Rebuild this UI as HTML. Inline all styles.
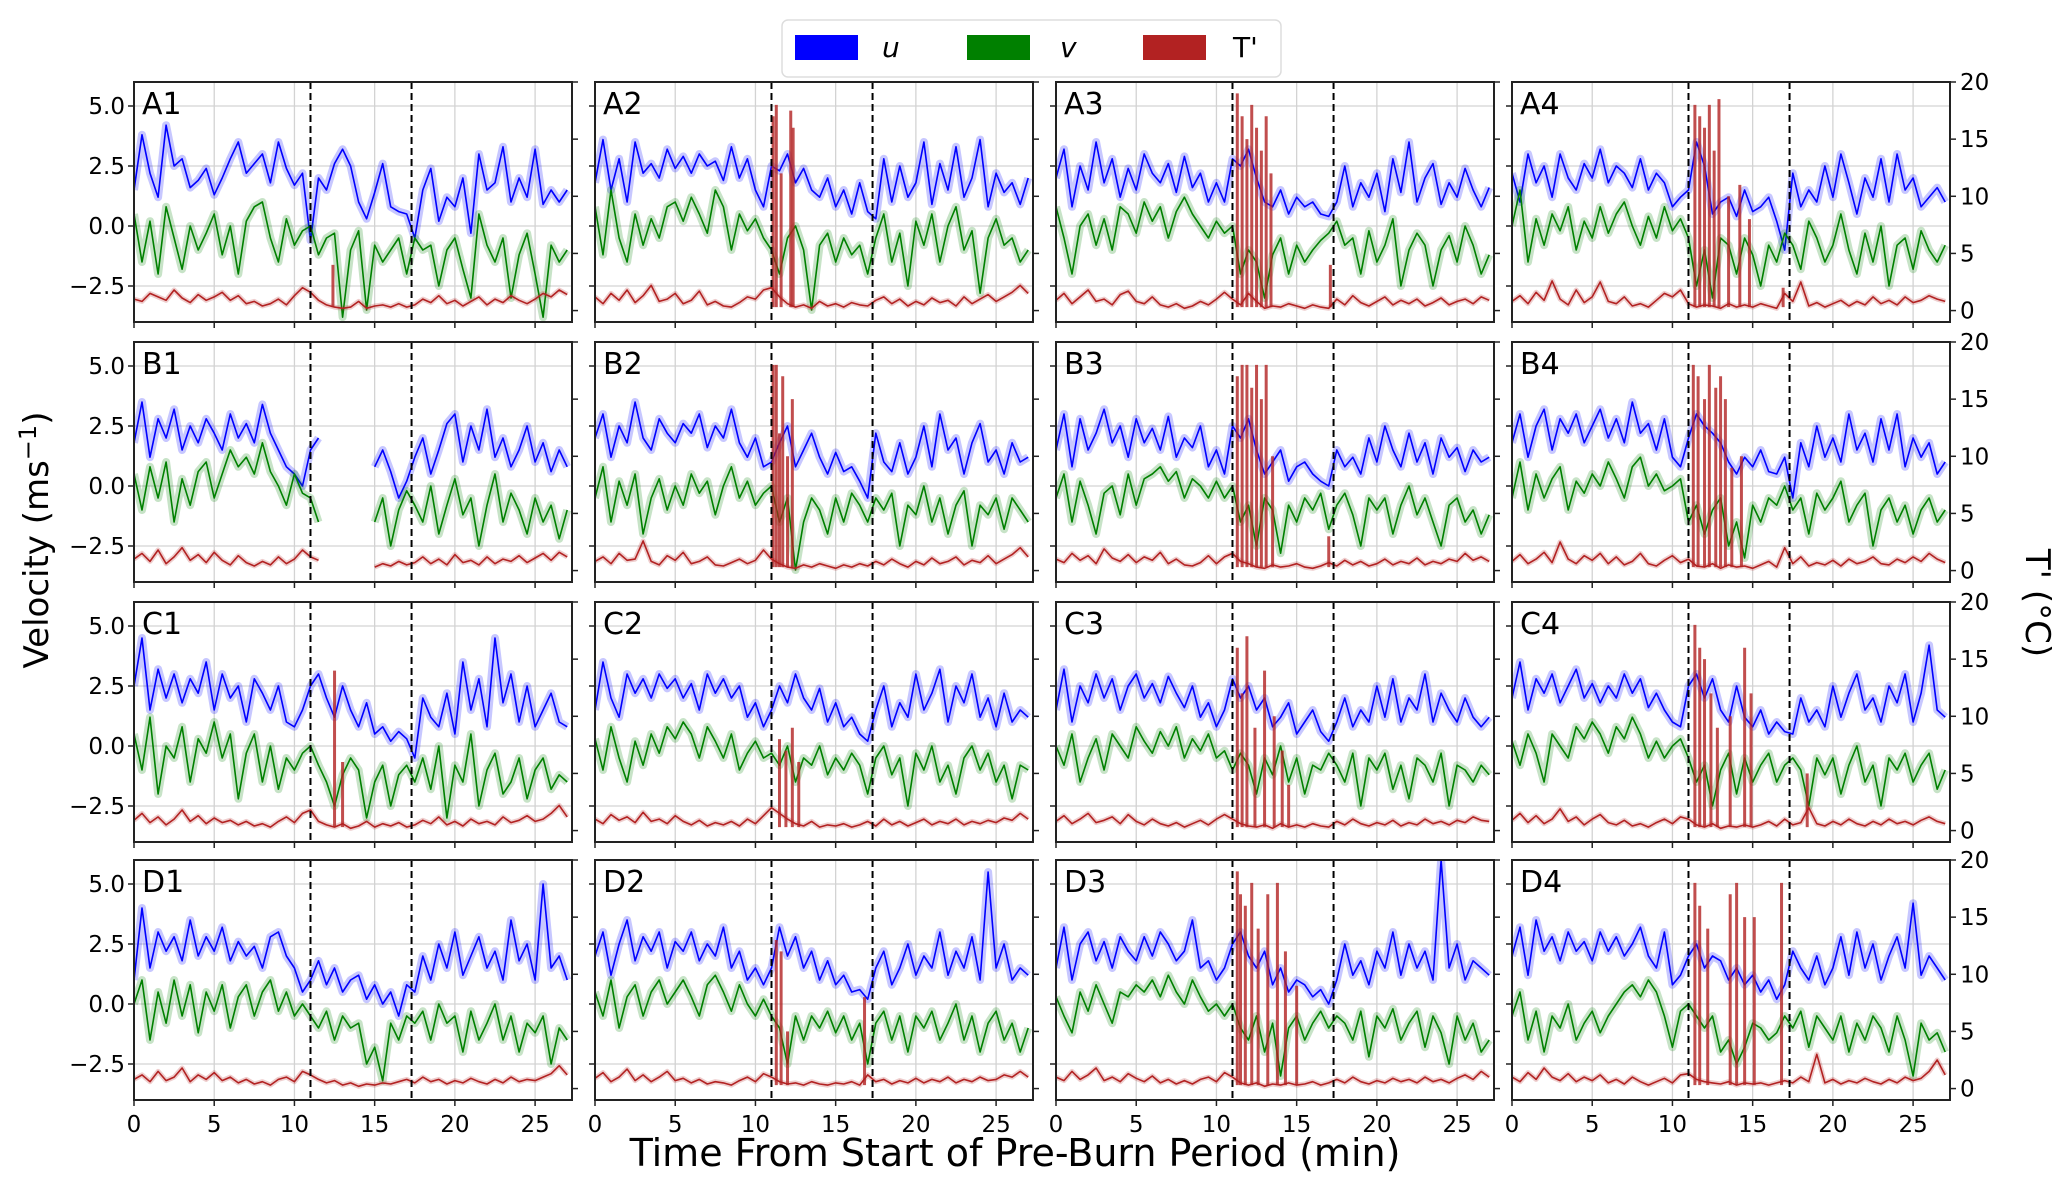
<!DOCTYPE html>
<html><head><meta charset="utf-8"><style>
html,body{margin:0;padding:0;background:#fff;}
svg{display:block;font-family:"DejaVu Sans","Liberation Sans",sans-serif;}
</style></head><body>
<svg id="chart" width="2067" height="1184" viewBox="0 0 2067 1184" xmlns="http://www.w3.org/2000/svg">
<g id="legend">
<rect x="782" y="20" width="499" height="57" rx="6" fill="#fff" stroke="#ddd" stroke-width="1.5"/>
<rect x="795" y="35" width="63" height="25" fill="#0000ff"/>
<text x="882" y="57" font-size="28" font-style="italic">u</text>
<rect x="967" y="35" width="63" height="25" fill="#008000"/>
<text x="1060" y="57" font-size="28" font-style="italic">v</text>
<rect x="1143" y="35" width="63" height="25" fill="#b22222"/>
<text x="1233" y="57" font-size="28">T'</text>
</g>
<text x="0" y="0" font-size="34" text-anchor="middle" transform="translate(48,540) rotate(-90)">Velocity (ms<tspan dy="-12" font-size="24">−1</tspan><tspan dy="12">)</tspan></text>
<text x="0" y="0" font-size="34" text-anchor="middle" transform="translate(2026,603) rotate(90)">T' (°C)</text>
<text x="1015" y="1166" font-size="38" text-anchor="middle">Time From Start of Pre-Burn Period (min)</text>
<g id="panels"></g>
</svg>
<script>
const xTicks = [0,5,10,15,20,25];
const yTicks = [-2.5,0,2.5,5];
const yTickLabels = ["−2.5","0.0","2.5","5.0"];
const tTicks = [0,5,10,15,20];
const burnLines = [11,17.3];
const sampleStep = 0.5;

const A1_u=[1.5,3.8,2.2,1.2,4.2,2.5,2.8,1.6,1.9,2.4,1.3,2.0,2.8,3.5,2.2,2.6,3.0,1.8,3.5,2.4,1.7,2.2,-0.6,2.0,1.5,2.6,3.2,2.5,1.0,0.3,1.4,2.6,0.8,0.6,0.5,-0.5,1.5,2.4,0.2,1.2,0.8,2.0,-0.3,3.0,1.5,1.8,3.3,1.0,2.0,1.2,3.2,0.9,1.5,1.0,1.5];
const A1_v=[0.5,-1.5,0.2,-2.0,0.8,-0.5,-1.8,0.0,-1.0,-0.3,0.5,-1.2,0.0,-2.0,0.2,0.8,1.0,-0.5,-1.5,0.3,-0.8,-0.2,0.0,-1.2,-0.5,-0.3,-3.8,-1.0,-0.2,-3.5,-0.8,-1.5,-1.0,-0.5,-2.0,-0.5,-1.0,-0.8,-2.5,-1.0,-0.5,-1.8,-3.0,0.5,-0.8,-1.5,-0.5,-3.0,-1.2,-0.3,-2.0,-3.8,-0.8,-1.5,-1.0];
const A1_T=[1.0,0.8,1.5,1.2,0.9,1.8,1.1,0.7,1.4,0.9,1.2,1.6,0.9,1.3,0.6,0.8,0.4,0.6,1.0,0.5,1.3,2.0,1.6,0.9,0.5,0.3,0.2,0.3,0.8,0.2,0.4,0.5,0.3,0.6,0.3,0.5,1.0,0.7,1.3,0.6,0.9,0.4,0.8,1.2,0.5,1.0,0.7,1.3,0.9,0.6,1.0,1.5,1.2,1.8,1.4];
const A1_spikeTime=[12.4];
const A1_spikeT=[4];

const A2_u=[1.8,3.6,1.5,2.8,1.0,3.5,2.2,2.6,2.0,3.2,2.4,2.9,2.2,3.0,2.5,2.7,1.9,3.3,2.0,2.8,1.5,0.8,2.5,2.3,3.0,1.8,2.4,1.5,1.2,2.0,0.8,1.5,0.5,1.8,0.6,0.3,2.8,1.0,2.5,1.2,1.8,3.5,0.9,2.6,1.5,3.3,1.2,2.0,3.6,0.8,2.2,1.4,1.8,0.9,2.0];
const A2_v=[0.8,-1.2,1.5,-0.5,-1.5,0.5,-0.8,0.3,-0.5,0.8,1.0,0.2,1.2,0.5,-0.3,1.5,0.8,-1.0,0.5,-0.2,0.3,-0.5,-1.0,-2.0,-0.5,0.0,-1.0,-3.5,-0.8,-0.3,-1.5,-0.5,-1.2,-0.8,-2.0,-0.5,0.5,-1.5,-0.3,-2.5,0.2,-0.8,0.5,-1.5,0.0,0.8,-1.0,-0.2,-2.8,-0.5,0.3,-0.8,-0.5,-1.5,-1.0];
const A2_T=[1.2,0.6,1.5,0.9,1.8,0.7,1.3,2.2,0.8,1.0,1.5,0.6,0.9,1.7,0.5,0.8,0.4,0.3,0.7,1.2,1.0,1.8,2.0,1.2,0.6,0.3,0.5,0.2,0.8,0.4,0.6,0.3,0.7,0.5,0.4,0.9,1.2,0.6,1.0,0.4,0.8,0.5,1.1,0.7,0.9,0.4,1.2,0.6,1.0,1.4,0.8,1.2,1.6,2.2,1.5];
const A2_spikeTime=[11.1,11.3,11.6,12.2,12.35];
const A2_spikeT=[17,18,12,17.5,16];

const A3_u=[2.0,3.2,0.8,2.5,1.5,3.5,1.8,2.8,1.2,2.4,1.5,3.0,2.2,1.8,2.6,1.4,2.9,1.6,2.2,1.0,1.8,1.0,2.8,2.5,3.2,2.0,1.0,0.8,1.5,0.5,1.2,0.8,1.0,0.5,0.4,1.0,2.5,0.8,1.8,1.2,2.2,0.6,2.8,1.4,3.5,1.0,2.0,2.6,0.9,1.8,1.2,2.4,1.5,0.8,1.6];
const A3_v=[0.8,-0.5,-2.0,0.0,0.5,-0.8,0.3,-1.0,0.8,0.5,-0.3,1.0,0.2,0.8,-0.5,0.6,1.2,0.5,0.0,-0.5,0.2,-0.3,0.0,-2.0,-1.0,-1.5,-3.0,-1.2,-0.5,-2.0,-0.8,-1.5,-1.0,-0.6,-0.3,0.2,-0.8,-0.5,-2.0,-0.2,-1.5,-0.8,0.3,-2.5,-1.0,-0.3,-0.8,-2.5,-1.0,-0.4,-1.5,0.0,-0.8,-2.0,-1.2];
const A3_T=[0.9,1.5,0.6,1.2,1.8,0.8,1.0,0.5,1.4,1.7,0.8,0.6,1.2,0.5,0.3,0.6,0.2,0.4,0.8,0.5,1.0,1.6,1.0,0.5,1.5,0.8,0.2,0.4,0.3,0.6,0.4,0.2,0.5,0.3,0.2,1.0,0.5,1.3,0.7,0.4,0.8,1.2,0.5,0.9,0.6,1.0,0.4,0.7,1.1,0.5,0.8,1.0,0.6,1.2,0.9];
const A3_spikeTime=[11.3,11.6,11.9,12.2,12.5,12.8,13.1,13.4,17.1];
const A3_spikeT=[19,17,15,18,16,14,17,12,4];

const A4_u=[2.2,1.0,3.0,1.8,2.5,1.2,3.0,2.0,1.5,2.6,2.0,3.2,1.8,2.5,2.2,1.6,2.8,1.5,2.2,1.8,0.8,1.2,1.5,3.5,2.5,0.5,1.0,1.2,0.4,1.5,0.6,0.8,1.2,0.2,-1.0,2.2,0.8,1.5,1.0,2.5,1.2,3.0,1.8,0.5,2.0,1.2,2.8,1.0,3.0,1.5,2.0,0.8,1.2,1.6,1.0];
const A4_v=[0.0,1.5,-1.5,0.3,-0.8,0.5,-0.2,0.8,-1.0,0.2,-0.5,0.8,-0.3,0.5,1.0,0.0,-0.8,0.4,-0.5,0.8,-0.2,0.3,-0.5,-2.5,-1.0,-3.0,-0.5,-0.8,-2.0,-0.5,-1.2,-2.5,-0.8,-1.5,-0.3,-0.8,-1.8,0.2,-0.5,-1.5,-0.8,0.5,-1.0,-2.0,-0.3,-1.5,0.0,-2.5,-0.8,-0.5,-1.8,-0.2,-1.0,-1.5,-0.8];
const A4_T=[0.8,1.3,0.6,1.6,0.9,2.6,1.0,0.5,1.8,0.7,1.2,2.5,0.8,0.6,1.2,0.4,0.6,0.3,0.9,1.5,1.2,1.8,0.6,0.3,0.5,0.4,0.2,0.6,0.3,0.5,0.3,0.6,0.4,0.2,1.5,0.8,2.5,0.4,0.7,0.3,0.6,0.9,0.4,0.8,0.5,1.2,0.6,0.9,0.5,1.2,0.7,0.9,1.3,1.0,0.8];
const A4_spikeTime=[11.4,11.7,12.0,12.3,12.6,12.9,13.5,14.2,14.8,16.9];
const A4_spikeT=[18,17,16,18,14,18.5,10,11,8,2];

const B1_u=[1.8,3.5,1.2,2.8,2.0,3.2,1.5,2.5,1.8,2.8,2.2,1.5,3.0,2.0,2.6,1.8,3.4,2.2,1.5,0.8,0.5,0.0,1.5,2.0,null,null,null,null,null,null,0.8,1.5,0.6,-0.5,0.2,1.2,2.0,0.5,1.5,2.6,3.0,1.0,2.5,1.5,3.2,1.2,2.0,0.8,1.5,2.5,1.0,1.8,0.6,1.5,0.8];
const B1_v=[0.5,-1.0,0.8,-0.5,1.0,-1.5,0.3,-0.8,0.6,1.0,-0.5,0.5,1.5,0.8,1.2,0.5,1.8,0.6,0.0,-0.8,0.5,-0.3,-0.5,-1.5,null,null,null,null,null,null,-1.5,-0.5,-2.5,-1.0,-0.2,-0.8,-1.5,0.0,-2.0,-0.8,0.3,-1.2,-0.5,-2.5,-0.8,0.5,-1.5,-0.3,-1.0,-2.0,-0.5,-1.5,-0.8,-2.2,-1.0];
const B1_T=[1.0,1.5,0.8,1.8,0.6,1.2,2.0,0.9,1.4,0.7,1.6,0.9,0.5,1.3,0.7,0.4,0.8,0.5,1.2,0.6,1.0,1.8,1.2,0.9,null,null,null,null,null,null,0.3,0.6,0.4,0.8,0.5,0.7,1.2,0.6,1.0,0.5,1.4,0.7,0.9,0.5,1.2,0.6,1.0,0.8,1.3,0.7,1.1,1.5,0.9,1.6,1.2];
const B1_spikeTime=[];
const B1_spikeT=[];

const B2_u=[2.0,3.0,1.2,2.5,1.8,3.5,2.0,1.5,2.8,2.2,1.8,2.6,2.2,3.0,1.6,2.5,2.0,3.2,1.8,1.2,2.0,0.8,1.0,1.8,2.5,0.8,1.5,2.2,1.2,0.5,1.4,0.6,0.8,0.2,-0.5,2.2,1.0,0.6,1.8,0.5,1.2,2.5,0.8,3.0,1.5,2.0,0.5,1.8,2.6,1.0,1.5,0.5,1.8,1.0,1.2];
const B2_v=[-0.5,0.8,-1.5,0.2,-0.8,0.5,-2.0,-0.5,0.3,-1.0,0.0,-0.8,0.5,-0.3,0.2,-1.2,0.0,0.8,-0.5,0.2,-0.8,-0.3,0.0,-1.5,-0.5,-3.5,-1.5,-0.5,-1.0,-2.0,-0.5,-1.5,-0.3,-0.8,-1.5,-0.5,-1.0,-0.3,-2.5,-0.8,-1.2,0.0,-1.5,-0.5,-2.0,-0.8,-0.2,-2.5,-0.8,-1.2,-0.5,-1.8,-0.5,-1.0,-1.5];
const B2_T=[0.8,1.2,0.6,1.5,0.9,1.0,2.6,0.8,0.5,1.3,0.9,1.6,0.6,0.8,1.2,0.5,0.4,0.7,1.0,0.6,0.9,1.8,1.0,0.6,0.3,0.2,0.5,0.3,0.6,0.4,0.2,0.5,0.3,0.6,0.4,0.8,0.5,1.0,0.6,0.3,0.8,0.5,1.1,0.6,0.8,1.2,0.5,0.9,0.7,1.3,0.6,1.0,1.4,2.0,1.2];
const B2_spikeTime=[11.1,11.3,11.5,11.7,12.0,12.3];
const B2_spikeT=[18,18,12,17,10,15];

const B3_u=[1.5,3.0,0.8,2.8,1.5,2.2,3.2,1.8,2.5,1.2,2.8,1.8,2.4,1.5,2.9,1.2,2.0,1.6,2.5,0.8,1.5,0.5,2.5,2.0,2.8,1.5,0.5,1.0,1.5,0.2,0.8,1.0,0.5,0.2,0.0,1.5,0.8,1.2,0.5,2.0,1.0,2.5,1.5,0.8,2.2,1.0,1.8,0.5,2.0,1.2,1.6,0.6,1.5,1.0,1.2];
const B3_v=[-0.5,0.5,-1.5,0.2,-0.8,-2.0,-0.3,0.0,-1.2,0.5,-0.8,0.3,0.5,0.8,0.2,0.6,-0.5,0.3,0.0,-0.5,0.2,-0.5,0.0,-1.5,-0.8,-2.5,-0.5,-1.0,-2.8,-0.8,-1.5,-0.5,-1.0,-0.3,-1.8,-0.8,-0.3,-1.2,-2.5,-0.5,-1.0,-0.5,-2.0,-0.8,0.0,-1.2,-0.5,-1.5,-2.5,-0.8,-0.5,-1.5,-1.0,-2.0,-1.2];
const B3_T=[1.0,0.7,1.5,0.9,1.3,0.6,1.9,1.1,0.8,1.4,0.7,1.2,0.9,1.6,0.6,1.0,0.5,0.4,0.7,1.3,0.6,1.2,1.5,0.8,0.6,0.3,0.2,0.5,0.3,0.4,0.6,0.3,0.2,0.4,0.7,0.4,0.9,0.5,0.8,0.4,0.6,1.0,0.5,0.8,0.6,1.1,0.5,0.8,0.6,1.0,0.8,1.5,0.9,1.2,0.8];
const B3_spikeTime=[11.3,11.6,11.9,12.2,12.5,12.8,13.1,13.5,17.0];
const B3_spikeT=[17,18,18,16,18,15,18,10,3];

const B4_u=[1.8,3.0,1.2,2.5,3.2,1.5,2.8,2.2,3.0,1.8,2.5,3.2,2.0,2.8,1.8,3.5,2.2,2.6,1.5,2.8,1.2,0.8,2.0,3.0,2.5,2.2,1.8,1.0,0.5,1.2,0.8,1.5,0.6,0.5,1.2,-0.5,1.8,0.8,2.5,1.2,2.0,1.0,3.0,1.5,2.2,1.0,2.8,1.5,3.0,0.8,2.0,1.2,1.8,0.5,1.0];
const B4_v=[-0.5,1.0,-1.0,0.5,-0.5,0.3,0.8,-1.0,0.2,-0.3,0.5,0.0,1.0,0.3,-0.5,0.8,1.2,0.0,0.5,-0.2,0.0,0.3,-1.5,-0.8,-2.0,-1.0,-0.5,-2.5,-1.5,-3.0,-0.8,-1.5,-0.5,-0.8,0.0,-1.0,-0.5,-2.0,-0.3,-1.0,-0.5,0.2,-1.5,-0.8,-0.3,-2.5,-1.0,-0.5,-1.5,-0.8,-2.0,-1.0,-0.5,-1.5,-1.0];
const B4_T=[0.8,1.4,0.6,1.0,1.6,0.7,2.5,1.0,0.6,1.3,0.9,1.5,0.6,1.2,0.5,0.8,1.5,0.6,0.4,0.9,1.3,0.7,1.0,0.4,0.3,0.6,0.2,0.5,0.3,0.4,0.2,0.5,0.8,0.3,2.0,0.6,1.2,0.4,0.7,0.5,0.9,0.4,1.0,0.6,0.8,1.2,0.6,0.5,1.0,0.7,1.2,0.8,1.5,1.0,0.7];
const B4_spikeTime=[11.3,11.6,12.0,12.3,12.7,13.0,13.3,13.7,14.3];
const B4_spikeT=[18,17,15,18,16,17,15,9,10];

const C1_u=[2.5,4.5,1.5,3.2,2.0,3.0,1.8,2.8,2.2,3.5,1.5,3.0,2.0,2.5,1.0,2.8,2.2,1.5,2.5,1.0,0.8,1.5,2.5,3.0,2.0,1.2,2.5,1.5,0.8,1.8,0.5,0.8,0.2,0.6,0.3,-0.5,2.0,1.2,0.8,2.2,0.5,3.5,1.5,2.8,0.8,4.5,1.8,3.0,1.0,2.5,0.8,1.5,2.2,1.0,0.8];
const C1_v=[0.5,-1.0,1.2,-2.0,0.0,-0.5,0.8,-1.5,0.3,-0.3,1.0,-0.5,0.5,-2.2,-0.3,0.5,-1.5,0.0,-1.8,-0.5,-1.0,-0.3,0.0,-0.8,-1.5,-2.5,-1.2,-0.5,-1.0,-3.0,-1.5,-0.8,-2.5,-1.2,-0.8,-1.5,-0.5,-1.8,0.0,-3.0,-0.8,-1.5,0.5,-2.5,-1.0,-0.3,-2.0,-1.5,-0.5,-2.2,-1.0,-0.5,-1.8,-1.2,-1.5];
const C1_T=[0.9,1.5,0.7,1.2,0.5,1.0,1.8,0.8,1.3,0.6,1.1,0.7,0.9,0.5,0.8,0.4,0.6,0.3,0.8,1.2,0.7,1.5,1.8,0.8,0.5,0.3,0.6,0.2,0.4,0.8,0.3,0.6,0.4,0.7,0.3,0.5,0.9,0.6,1.2,0.5,0.8,0.4,1.0,0.6,0.8,0.5,1.2,0.7,0.9,1.3,0.8,1.0,1.5,2.2,1.2];
const C1_spikeTime=[12.5,13.0];
const C1_spikeT=[14,6];

const C2_u=[1.5,3.5,2.0,1.2,3.0,2.2,2.8,2.0,3.0,2.4,2.8,2.0,2.6,1.5,3.0,2.2,2.8,2.0,2.5,1.2,1.8,0.8,1.5,2.5,1.8,3.0,2.0,1.5,2.4,1.0,1.8,0.8,1.2,0.5,0.2,1.5,2.5,0.8,1.8,1.2,3.0,1.5,2.2,3.2,1.0,2.5,1.8,3.0,1.2,2.0,0.8,2.2,1.0,1.5,1.2];
const C2_v=[0.3,-1.0,0.8,-0.5,-1.5,0.2,-0.8,0.5,-0.3,0.8,0.3,1.0,0.5,-0.5,0.8,0.2,-0.5,0.5,-1.0,-0.3,0.2,-0.5,-0.3,-0.8,0.0,-1.5,-0.5,-0.8,0.0,-1.2,-0.5,-1.0,-0.3,-0.8,-2.0,-0.5,0.0,-1.2,-0.5,-2.5,-0.3,-1.0,0.0,-1.5,-0.8,-2.0,-0.5,0.0,-1.0,-0.3,-1.5,-0.8,-2.2,-0.8,-1.0];
const C2_T=[1.0,0.6,1.4,0.9,1.2,0.7,1.6,0.8,1.0,0.6,1.3,0.8,0.5,0.9,0.4,0.7,0.5,0.8,0.4,1.0,0.6,1.3,2.0,1.5,1.0,0.6,0.4,0.8,0.3,0.5,0.4,0.6,0.3,0.5,0.8,0.4,1.0,0.5,0.8,0.4,0.7,1.0,0.5,0.8,0.6,1.0,0.5,0.8,0.6,0.9,0.7,1.1,0.9,1.5,1.0];
const C2_spikeTime=[11.5,11.9,12.3,12.7];
const C2_spikeT=[8,7,9,6];

const C3_u=[1.5,3.2,1.0,2.5,1.8,3.0,2.0,2.8,1.5,2.5,3.0,2.0,2.6,1.8,2.9,2.2,1.6,2.5,1.2,1.8,0.8,1.5,2.8,2.0,2.5,1.5,2.0,0.8,1.2,1.8,0.5,1.0,1.5,0.6,0.2,1.0,2.0,0.8,1.5,1.0,2.5,1.2,2.8,1.0,2.0,1.5,3.0,1.0,2.2,1.5,1.0,2.0,1.2,0.8,1.2];
const C3_v=[0.0,-0.8,0.5,-1.5,-0.5,0.3,-1.0,0.5,0.0,-0.5,0.8,0.2,-0.3,0.6,0.0,0.8,-0.5,0.3,-0.2,0.5,-0.5,-0.2,-1.0,-0.3,-0.8,-2.0,-0.5,-1.2,0.0,-1.5,-0.5,-2.0,-0.8,-1.0,-0.3,-0.8,-1.5,-0.3,-2.5,-0.5,-1.0,-0.3,-1.8,-0.8,-2.2,-0.5,-0.8,-1.5,-0.3,-2.5,-0.8,-1.0,-1.5,-0.8,-1.2];
const C3_T=[0.8,1.3,0.6,1.0,1.5,0.7,0.9,1.2,0.6,1.4,0.8,0.5,1.0,0.6,0.4,0.7,0.3,0.6,0.9,0.5,1.0,1.4,1.0,0.6,0.4,0.3,0.5,0.2,0.6,0.3,0.5,0.3,0.6,0.4,0.3,0.8,0.5,1.0,0.6,0.4,0.7,0.5,0.9,0.4,0.7,0.5,1.0,0.6,0.8,0.5,0.9,0.7,1.2,0.9,0.8];
const C3_spikeTime=[11.3,11.6,11.9,12.4,13.0,13.6,14.1,14.5];
const C3_spikeT=[16,12,17,9,14,10,7,4];

const C4_u=[2.0,3.5,1.5,2.8,2.2,3.0,1.8,2.5,3.2,2.0,2.6,1.8,2.5,2.0,3.0,2.2,2.8,1.6,2.2,1.5,1.0,0.8,2.5,3.0,2.0,2.8,1.5,1.0,2.5,1.2,0.8,1.5,0.5,1.0,0.6,0.5,2.0,1.0,1.5,0.8,2.5,1.2,2.2,3.0,1.5,2.0,1.0,2.5,1.8,3.0,1.0,2.2,4.2,1.5,1.2];
const C4_v=[0.2,-0.8,0.5,-0.3,-1.5,0.5,0.0,-0.5,0.8,0.3,1.0,0.5,-0.3,0.8,0.3,1.2,0.5,-0.5,0.2,-0.5,0.0,0.3,-0.5,-1.5,-0.8,-2.5,-1.0,-0.3,-2.0,-0.5,-1.5,-0.8,-0.3,-1.5,-0.8,-0.5,-1.0,-2.5,-0.5,-1.2,-0.5,-2.0,-0.8,0.0,-1.5,-0.8,-2.5,-0.5,-1.0,-0.3,-1.5,-0.8,-0.3,-1.8,-1.0];
const C4_T=[0.9,1.5,0.7,1.3,0.6,1.0,1.9,0.8,1.2,0.5,1.0,1.4,0.7,0.5,0.9,0.4,0.6,0.3,0.7,1.0,0.6,1.2,1.0,0.5,0.3,0.6,0.2,0.4,0.3,0.5,0.3,0.5,0.8,0.4,1.0,0.5,0.7,2.0,0.6,0.4,0.8,0.5,1.0,0.6,0.4,0.8,0.5,1.0,0.6,0.8,0.5,0.9,1.2,0.8,0.6];
const C4_spikeTime=[11.4,11.7,12.0,12.4,12.8,13.6,14.5,14.9,18.4];
const C4_spikeT=[18,16,15,12,9,10,16,12,5];

const D1_u=[1.0,4.0,1.5,3.0,2.2,2.8,1.8,3.5,2.0,2.8,2.2,3.2,1.8,2.6,2.0,2.4,1.5,2.8,3.0,2.0,1.5,0.5,1.0,1.8,0.8,1.5,0.5,1.0,1.2,0.2,0.8,0.0,0.5,-0.5,0.8,0.5,2.0,1.0,2.5,1.5,3.0,1.2,2.0,2.8,1.5,2.2,1.0,3.5,1.8,2.5,1.0,5.0,1.5,2.0,1.0];
const D1_v=[0.0,1.0,-1.5,0.5,-0.8,1.0,-0.5,0.8,-1.2,0.5,-0.3,0.8,-1.0,0.3,0.8,-0.5,0.5,1.0,-0.3,0.5,-0.5,0.0,-0.5,-1.0,-0.3,-1.5,-0.5,-1.0,-0.8,-2.5,-1.8,-3.2,-0.8,-1.5,-0.5,-0.8,-0.3,-1.5,0.0,-0.8,-0.5,-2.0,-0.3,-1.5,-0.8,0.0,-1.5,-0.5,-2.0,-0.8,-1.2,-0.5,-2.5,-1.0,-1.5];
const D1_T=[0.8,1.2,0.6,1.5,0.7,1.0,1.8,0.6,1.2,0.8,1.4,0.7,1.0,0.5,0.8,0.4,0.6,0.3,0.8,1.0,0.6,1.5,1.2,0.8,0.5,0.7,0.3,0.5,0.2,0.4,0.3,0.5,0.4,0.6,0.8,0.5,1.0,0.6,0.8,0.4,0.7,0.5,0.9,0.6,0.4,0.8,0.5,1.0,0.6,0.8,0.7,1.0,1.3,2.0,1.2];
const D1_spikeTime=[];
const D1_spikeT=[];

const D2_u=[2.0,3.0,1.2,2.5,3.5,1.8,2.8,2.2,3.0,1.5,2.6,2.2,3.0,1.8,2.5,2.0,3.2,1.5,2.2,1.0,1.5,0.8,1.5,3.2,2.0,2.8,1.5,2.2,1.0,1.8,0.8,1.2,0.5,0.6,0.2,1.5,2.2,0.8,1.5,2.5,1.2,2.0,1.5,3.0,1.2,2.2,1.5,2.8,1.0,5.5,1.5,2.5,1.0,1.5,1.2];
const D2_v=[0.5,-0.5,1.0,-1.0,0.3,0.8,-0.5,0.5,1.0,0.0,0.5,1.0,0.3,-0.5,0.8,1.2,0.5,-0.3,0.8,0.0,-0.5,0.2,-0.5,-1.0,-2.5,-0.5,-1.5,-0.5,-1.0,-0.3,-1.2,-0.5,-1.5,-0.8,-2.5,-0.8,-0.3,-1.5,-0.5,-2.0,-0.5,-1.0,-0.3,-1.5,-0.8,0.0,-1.5,-0.5,-2.0,-0.8,-0.3,-1.5,-0.8,-2.0,-1.0];
const D2_T=[0.9,1.4,0.6,1.0,1.7,0.7,1.2,0.6,1.0,1.5,0.7,0.9,0.5,0.8,0.4,0.6,0.5,0.3,0.7,1.0,0.6,1.3,1.0,0.6,0.4,0.5,0.3,0.6,0.4,0.3,0.5,0.4,0.6,0.3,1.2,0.6,0.8,0.4,0.7,0.5,0.9,0.5,0.8,0.6,1.0,0.5,0.8,0.6,1.0,0.7,0.8,1.2,1.0,1.5,1.0];
const D2_spikeTime=[11.3,11.6,12.0,16.8];
const D2_spikeT=[13,12,5,8];

const D3_u=[1.5,3.2,1.0,2.5,3.0,1.8,2.6,1.5,2.8,2.2,1.8,2.8,2.0,3.0,2.5,1.8,2.2,3.5,1.5,1.8,1.0,1.5,2.5,3.0,2.0,1.5,2.2,0.8,1.5,0.5,1.0,0.8,0.3,0.6,0.0,1.0,2.5,1.2,1.8,0.8,2.2,1.5,3.0,1.2,2.5,1.5,2.2,1.0,6.0,1.5,2.5,1.0,1.8,1.5,1.2];
const D3_v=[0.3,-0.5,-1.2,0.5,-0.3,0.8,0.0,-0.8,0.5,0.3,0.8,0.5,1.0,0.3,1.2,0.5,0.0,1.0,0.3,-0.3,0.0,-0.5,0.0,-1.0,-1.5,-0.5,-2.0,-0.8,-3.0,-1.0,-0.5,-1.5,-0.8,-0.3,-1.0,-0.5,-0.8,-1.5,-0.3,-2.2,-0.5,-1.0,-0.2,-1.5,-0.8,-0.3,-1.8,-0.5,-1.2,-2.5,-0.5,-1.5,-0.8,-2.0,-1.5];
const D3_T=[1.0,0.7,1.5,0.8,1.2,1.8,0.7,1.0,0.6,1.3,0.9,0.6,1.1,0.5,0.8,0.4,0.7,0.4,0.8,1.0,0.6,1.4,1.0,0.5,0.3,0.5,0.2,0.4,0.3,0.5,0.3,0.4,0.6,0.3,0.5,0.8,0.5,1.0,0.6,0.4,0.7,0.5,0.9,0.6,0.8,0.5,1.0,0.6,0.8,0.5,0.9,1.2,0.8,1.5,1.0];
const D3_spikeTime=[11.3,11.5,11.8,12.2,12.6,13.2,13.8,14.3,15.0];
const D3_spikeT=[19,17,16,18,14,17,18,12,9];

const D4_u=[2.0,3.2,1.2,3.5,2.2,2.8,1.8,3.0,2.2,2.6,1.8,3.0,2.2,2.8,2.0,2.5,3.2,2.0,1.5,3.0,0.8,1.2,2.0,2.5,1.5,2.0,1.8,1.0,1.5,0.8,1.2,0.5,1.0,0.2,0.8,2.2,1.5,1.0,2.0,0.8,1.5,2.8,1.2,3.0,1.5,2.5,1.0,2.0,2.8,1.5,4.2,1.2,2.0,1.5,1.0];
const D4_v=[-0.5,0.5,-1.5,-0.3,-2.0,-0.5,-1.0,0.0,-1.5,-0.8,-0.3,-1.2,-0.5,0.0,0.5,0.8,0.3,1.0,0.5,-0.5,-1.8,-0.3,0.0,-0.5,-1.0,-0.5,-2.0,-1.5,-2.5,-1.8,-0.8,-1.0,-1.5,-1.2,-0.5,-1.0,-0.3,-1.8,-0.5,-1.0,-1.5,-0.5,-2.0,-0.8,-1.5,-0.5,-1.0,-2.0,-0.5,-1.5,-3.0,-0.8,-1.5,-1.2,-2.0];
const D4_T=[1.0,0.6,1.4,0.8,1.8,1.0,0.7,1.3,0.6,1.0,0.7,1.2,0.5,0.8,0.4,1.0,0.6,0.3,0.6,0.9,0.5,1.2,1.3,0.8,0.6,0.5,0.4,0.6,0.3,0.5,0.4,0.5,0.3,0.5,0.7,0.5,1.0,0.6,3.0,0.5,0.8,0.4,0.7,0.5,0.9,0.6,0.4,0.8,0.5,1.0,0.7,0.9,1.5,2.5,1.2];
const D4_spikeTime=[11.4,11.7,12.2,13.6,14.0,14.5,15.1,16.8];
const D4_spikeT=[18,16,14,17,18,15,15,18];

const panelNames=["A1","A2","A3","A4","B1","B2","B3","B4","C1","C2","C3","C4","D1","D2","D3","D4"];
const panelU=[A1_u,A2_u,A3_u,A4_u,B1_u,B2_u,B3_u,B4_u,C1_u,C2_u,C3_u,C4_u,D1_u,D2_u,D3_u,D4_u];
const panelV=[A1_v,A2_v,A3_v,A4_v,B1_v,B2_v,B3_v,B4_v,C1_v,C2_v,C3_v,C4_v,D1_v,D2_v,D3_v,D4_v];
const panelT=[A1_T,A2_T,A3_T,A4_T,B1_T,B2_T,B3_T,B4_T,C1_T,C2_T,C3_T,C4_T,D1_T,D2_T,D3_T,D4_T];
const panelSpikeTime=[A1_spikeTime,A2_spikeTime,A3_spikeTime,A4_spikeTime,B1_spikeTime,B2_spikeTime,B3_spikeTime,B4_spikeTime,C1_spikeTime,C2_spikeTime,C3_spikeTime,C4_spikeTime,D1_spikeTime,D2_spikeTime,D3_spikeTime,D4_spikeTime];
const panelSpikeT=[A1_spikeT,A2_spikeT,A3_spikeT,A4_spikeT,B1_spikeT,B2_spikeT,B3_spikeT,B4_spikeT,C1_spikeT,C2_spikeT,C3_spikeT,C4_spikeT,D1_spikeT,D2_spikeT,D3_spikeT,D4_spikeT];

const NS="http://www.w3.org/2000/svg";
const colLeft=[134,595,1056,1512], rowTop=[82,342,602,860];
const PW=438, PH=240;
const X_MIN=0,X_MAX=27.3,Y_MIN=-4,Y_MAX=6,T_MIN=-1,T_MAX=20;
const root=document.getElementById('panels');
function mk(tag,attrs,parent){const e=document.createElementNS(NS,tag);for(const k in attrs)e.setAttribute(k,attrs[k]);parent.appendChild(e);return e;}
function pathFrom(vals,sx,sy){let d="",pen=false;vals.forEach((v,i)=>{if(v===null){pen=false;return;}const x=sx(i*sampleStep),y=sy(v);d+=(pen?"L":"M")+x.toFixed(1)+" "+y.toFixed(1);pen=true;});return d;}

panelNames.forEach((name,p)=>{
  const r=Math.floor(p/4), c=p%4, L=colLeft[c], T=rowTop[r];
  const sx=t=>L+(t-X_MIN)/(X_MAX-X_MIN)*PW;
  const sy=v=>T+PH-(v-Y_MIN)/(Y_MAX-Y_MIN)*PH;
  const st=v=>T+PH-(v-T_MIN)/(T_MAX-T_MIN)*PH;
  const g=mk('g',{},root);
  
  
  const cp=mk('clipPath',{id:'clip'+p},g); mk('rect',{x:L,y:T,width:PW,height:PH},cp);
  xTicks.forEach(t=>{const l=mk('line',{x1:sx(t),x2:sx(t),y1:T,y2:T+PH,stroke:'#d3d3d3','stroke-width':1.3},g);
    
    });
  yTicks.forEach(v=>{const l=mk('line',{x1:L,x2:L+PW,y1:sy(v),y2:sy(v),stroke:'#d3d3d3','stroke-width':1.3},g);
    
    });
  const data=mk('g',{'clip-path':'url(#clip'+p+')'},g);
  const series=[[panelU[p],'#0000ff',sy,'u-series',8],[panelV[p],'#008000',sy,'v-series',8],[panelT[p],'#b22222',st,'t-series',5]];
  series.forEach(([vals,col,scale,nm,hw])=>{
    const d=pathFrom(vals,sx,scale);
    const halo=mk('path',{d:d,fill:'none',stroke:col,'stroke-width':hw,'stroke-opacity':0.22,'stroke-linejoin':'round'},data);
    
    
    const ln=mk('path',{d:d,fill:'none',stroke:col,'stroke-width':1.6,'stroke-linejoin':'round'},data);
    
    
  });
  panelSpikeTime[p].forEach((t,i)=>{
    const s=mk('line',{x1:sx(t),x2:sx(t),y1:st(0.3),y2:st(panelSpikeT[p][i]),stroke:'#b22222','stroke-width':3,'stroke-opacity':0.8},data);
    
    
  });
  burnLines.forEach(t=>{const l=mk('line',{x1:sx(t),x2:sx(t),y1:T,y2:T+PH,stroke:'#000','stroke-width':2,'stroke-dasharray':'7,4'},g);
    
    });
  const fr=mk('rect',{x:L,y:T,width:PW,height:PH,fill:'none',stroke:'#222','stroke-width':2},g);
  
  
  yTicks.forEach((v,i)=>{mk('line',{x1:L-6,x2:L,y1:sy(v),y2:sy(v),stroke:'#222','stroke-width':1.5},g);
    if(c===0){const tx=mk('text',{x:L-9,y:sy(v)+8,'font-size':23,'text-anchor':'end'},g);tx.textContent=yTickLabels[i];
      
      }});
  tTicks.forEach(v=>{mk('line',{x1:L+PW,x2:L+PW+6,y1:st(v),y2:st(v),stroke:'#222','stroke-width':1.5},g);
    if(c===3){const tx=mk('text',{x:L+PW+10,y:st(v)+8,'font-size':23},g);tx.textContent=String(v);
      
      }});
  xTicks.forEach(t=>{mk('line',{x1:sx(t),x2:sx(t),y1:T+PH,y2:T+PH+6,stroke:'#222','stroke-width':1.5},g);
    if(r===3){const tx=mk('text',{x:sx(t),y:T+PH+32,'font-size':23,'text-anchor':'middle'},g);tx.textContent=String(t);
      
      }});
  const lb=mk('text',{x:L+8,y:T+32,'font-size':30},g); lb.textContent=name;
  
  
});
</script>
</body></html>
